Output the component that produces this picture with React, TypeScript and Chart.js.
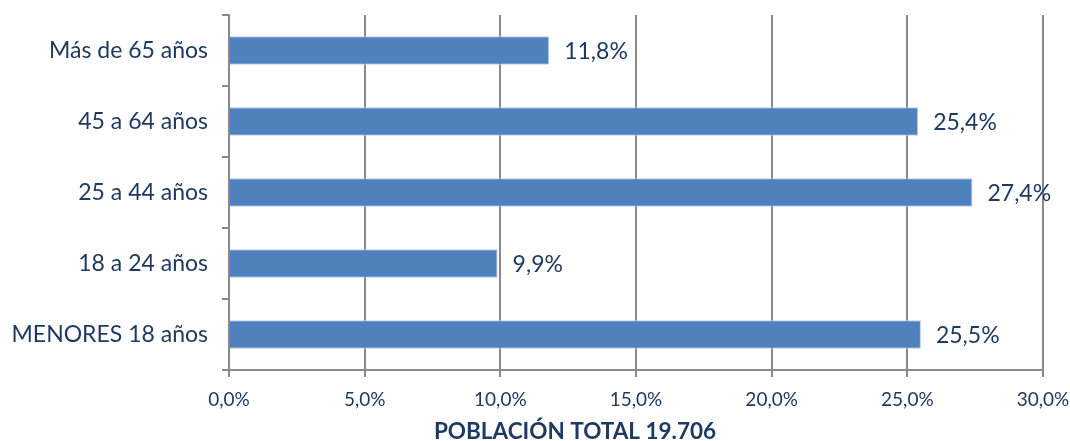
import React, { useEffect, useRef } from "react";
import { Chart, registerables } from "chart.js";

Chart.register(...registerables);

const categories = ["Más de 65 años", "45 a 64 años", "25 a 44 años", "18 a 24 años", "MENORES 18 años"];
const values = [11.8, 25.4, 27.4, 9.9, 25.5];
const xTitle = "POBLACIÓN TOTAL 19.706";

const FONT = "Lato, 'Open Sans', sans-serif";
const TEXT = "#1F3A60";
const GRID = "#8A8A8A";

const fmt = (v: number) => v.toFixed(1).replace(".", ",") + "%";

const labelPlugin = {
  id: "valueLabels",
  afterDatasetsDraw(chart: any) {
    const { ctx } = chart;
    const meta = chart.getDatasetMeta(0);
    ctx.save();
    ctx.font = `23px ${FONT}`;
    ctx.fillStyle = TEXT;
    ctx.textBaseline = "middle";
    ctx.textAlign = "left";
    meta.data.forEach((bar: any, i: number) => {
      ctx.fillText(fmt(values[i]), bar.x + 15, bar.y + 1);
    });
    ctx.restore();
  },
};

const titlePlugin = {
  id: "bottomTitle",
  afterDraw(chart: any) {
    const { ctx } = chart;
    ctx.save();
    ctx.font = `bold 22.5px ${FONT}`;
    ctx.fillStyle = TEXT;
    ctx.textAlign = "center";
    ctx.textBaseline = "middle";
    ctx.fillText(xTitle, 575, 432);
    ctx.restore();
  },
};

export default function App() {
  const ref = useRef<HTMLCanvasElement>(null);
  useEffect(() => {
    document.body.style.margin = "0";
    const chart = new Chart(ref.current!, {
      type: "bar",
      data: {
        labels: categories,
        datasets: [
          {
            data: values,
            backgroundColor: "#4F81BD",
            borderColor: "#B9CDE5",
            borderWidth: 1,
            categoryPercentage: 0.4,
            barPercentage: 1,
          },
        ],
      },
      options: {
        indexAxis: "y",
        animation: false,
        responsive: false,
        maintainAspectRatio: false,
        layout: { padding: { top: 15, right: 27, left: 0, bottom: 0 } },
        plugins: { legend: { display: false }, tooltip: { enabled: false } },
        scales: {
          x: {
            min: 0,
            max: 30,
            ticks: {
              stepSize: 5,
              callback: (v: any) => fmt(Number(v)),
              color: TEXT,
              font: { family: FONT, size: 19 },
              padding: 11,
              maxRotation: 0,
            },
            grid: { color: GRID, lineWidth: 2, tickLength: 7, drawTicks: true },
            border: { color: GRID, width: 2 },
            afterFit: (s: any) => {
              s.height = 71;
              s.paddingLeft = 0;
              s.paddingRight = 0;
            },
          },
          y: {
            ticks: {
              color: TEXT,
              font: { family: FONT, size: 23 },
              padding: 14,
            },
            grid: { display: true, drawOnChartArea: false, offset: true, color: GRID, lineWidth: 2, tickLength: 7 },
            border: { color: GRID, width: 2 },
            afterFit: (s: any) => {
              s.width = 229;
              s.paddingTop = 0;
              s.paddingBottom = 0;
            },
          },
        },
      },
      plugins: [labelPlugin, titlePlugin],
    });
    return () => chart.destroy();
  }, []);
  return (
    <div style={{ position: "absolute", left: 0, top: 0, width: 1070, height: 441, background: "#fff" }}>
      <canvas ref={ref} width={1070} height={441} style={{ width: 1070, height: 441 }} />
    </div>
  );
}
